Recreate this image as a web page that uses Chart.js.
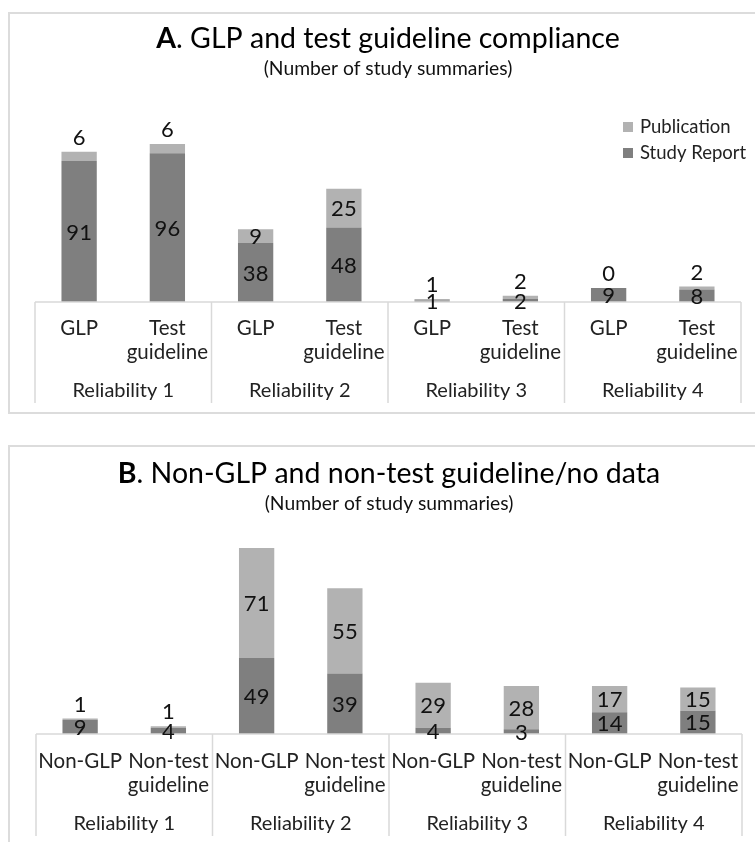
<!DOCTYPE html>
<html>
<head>
<meta charset="utf-8">
<script src="https://cdn.jsdelivr.net/npm/chart.js@4/dist/chart.umd.min.js"></script>
<style>
  html, body { margin: 0; padding: 0; background: #fff; overflow: hidden; width: 755px; height: 842px; }
  .box { position: absolute; left: 8px; width: 800px; border: 2px solid #dcdcdc; box-sizing: border-box; }
  canvas { position: absolute; left: 0; }
</style>
</head>
<body>
<div class="box" style="top:12px;height:402px"></div>
<div class="box" style="top:445px;height:430px"></div>
<canvas id="chartA" width="755" height="400" style="top:13px"></canvas>
<canvas id="chartB" width="755" height="395" style="top:447px"></canvas>
<script>
const groups = ['Reliability 1', 'Reliability 2', 'Reliability 3', 'Reliability 4'];
const categoriesA = [['GLP'], ['Test', 'guideline'], ['GLP'], ['Test', 'guideline'],
                     ['GLP'], ['Test', 'guideline'], ['GLP'], ['Test', 'guideline']];
const categoriesB = [['Non-GLP'], ['Non-test', 'guideline'], ['Non-GLP'], ['Non-test', 'guideline'],
                     ['Non-GLP'], ['Non-test', 'guideline'], ['Non-GLP'], ['Non-test', 'guideline']];
const seriesNames = ['Study Report', 'Publication'];
const studyReportA = [91, 96, 38, 48, 1, 2, 9, 8];
const publicationA = [6, 6, 9, 25, 1, 2, 0, 2];
const studyReportB = [9, 4, 49, 39, 4, 3, 14, 15];
const publicationB = [1, 1, 71, 55, 29, 28, 17, 15];
const yMax = 120;

const FONT = 'Lato, "Open Sans", sans-serif';
const DARK = '#7f7f7f';
const LIGHT = '#b2b2b2';

// draws title, data labels, two-level category axis and legend
function decor(cfg) {
  return {
    id: 'decor',
    afterDatasetsDraw(chart) {
      const ctx = chart.ctx;
      const x = chart.scales.x;
      const area = chart.chartArea;
      const n = chart.data.labels.length;
      const step = x.getPixelForValue(1) - x.getPixelForValue(0);
      const left = x.getPixelForValue(0) - step / 2;
      const right = x.getPixelForValue(n - 1) + step / 2;
      const base = area.bottom;
      ctx.save();

      // axis box
      ctx.strokeStyle = '#d9d9d9';
      ctx.lineWidth = 1.5;
      ctx.beginPath();
      ctx.moveTo(left, base); ctx.lineTo(right, base);
      for (let g = 0; g <= groups.length; g++) {
        const gx = g < groups.length ? x.getPixelForValue(g * 2) - step / 2 : right;
        ctx.moveTo(gx, base); ctx.lineTo(gx, base + cfg.axisDepth);
      }
      ctx.stroke();

      // category + group labels
      ctx.fillStyle = '#222';
      ctx.textAlign = 'center';
      ctx.textBaseline = 'middle';
      ctx.font = '20.5px ' + FONT;
      chart.data.labels.forEach((lab, i) => {
        const cx = x.getPixelForValue(i);
        lab.forEach((line, k) => ctx.fillText(line, cx, base + cfg.line1 + k * 24.5));
      });
      ctx.font = '20px ' + FONT;
      groups.forEach((g, gi) => {
        const gx = (x.getPixelForValue(gi * 2) + x.getPixelForValue(gi * 2 + 1)) / 2;
        ctx.fillText(g, gx, base + cfg.groupY);
      });

      // data labels
      ctx.fillStyle = '#111';
      ctx.font = '22px ' + FONT;
      chart.data.datasets.forEach((ds, di) => {
        const meta = chart.getDatasetMeta(di);
        meta.data.forEach((bar, i) => {
          const h = bar.base - bar.y;
          let ly = bar.y + h / 2;
          if (di === 1 && h < 12) ly = bar.y - 15;
          ctx.fillText(String(ds.data[i]), bar.x, ly + 1);
        });
      });

      // title
      const mid = (left + right) / 2;
      ctx.fillStyle = '#000';
      ctx.textAlign = 'left';
      ctx.font = 'bold 28.5px ' + FONT;
      const w1 = ctx.measureText(cfg.letter).width;
      ctx.font = '28.5px ' + FONT;
      const w2 = ctx.measureText(cfg.title).width;
      const tx = mid - (w1 + w2) / 2;
      ctx.font = 'bold 28.5px ' + FONT;
      ctx.fillText(cfg.letter, tx, cfg.titleY);
      ctx.font = '28.5px ' + FONT;
      ctx.fillText(cfg.title, tx + w1, cfg.titleY);
      ctx.textAlign = 'center';
      ctx.font = '19.3px ' + FONT;
      ctx.fillStyle = '#111';
      ctx.fillText('(Number of study summaries)', mid, cfg.titleY + 30.5);

      // legend
      if (cfg.legend) {
        ctx.textAlign = 'left';
        ctx.font = '18.5px ' + FONT;
        [1, 0].forEach((di, k) => {
          const ds = chart.data.datasets[di];
          const ly = cfg.legend.y + k * 26;
          ctx.fillStyle = ds.backgroundColor;
          ctx.fillRect(cfg.legend.x, ly - 5, 10, 10);
          ctx.fillStyle = '#222';
          ctx.fillText(ds.label, cfg.legend.x + 17, ly);
        });
      }
      ctx.restore();
    }
  };
}

function makeChart(id, labels, study, pub, pad, cfg) {
  return new Chart(document.getElementById(id), {
    type: 'bar',
    data: {
      labels: labels,
      datasets: [
        { label: seriesNames[0], data: study, backgroundColor: DARK, barPercentage: 0.4, categoryPercentage: 1 },
        { label: seriesNames[1], data: pub, backgroundColor: LIGHT, barPercentage: 0.4, categoryPercentage: 1 }
      ]
    },
    options: {
      responsive: false,
      animation: false,
      layout: { padding: pad },
      plugins: { legend: { display: false }, tooltip: { enabled: false } },
      scales: {
        x: { stacked: true, display: false },
        y: { stacked: true, display: false, min: 0, max: yMax }
      }
    },
    plugins: [decor(cfg)]
  });
}

makeChart('chartA', categoriesA, studyReportA, publicationA,
  { left: 35, right: 14, top: 103, bottom: 111 },
  { letter: 'A', title: '. GLP and test guideline compliance', titleY: 25.5,
    axisDepth: 101, line1: 26, groupY: 89, legend: { x: 623, y: 114 } });

makeChart('chartB', categoriesB, studyReportB, publicationB,
  { left: 36, right: 13, top: 101, bottom: 108 },
  { letter: 'B', title: '. Non-GLP and non-test guideline/no data', titleY: 26.5,
    axisDepth: 102, line1: 27, groupY: 90, legend: null });
</script>
</body>
</html>
